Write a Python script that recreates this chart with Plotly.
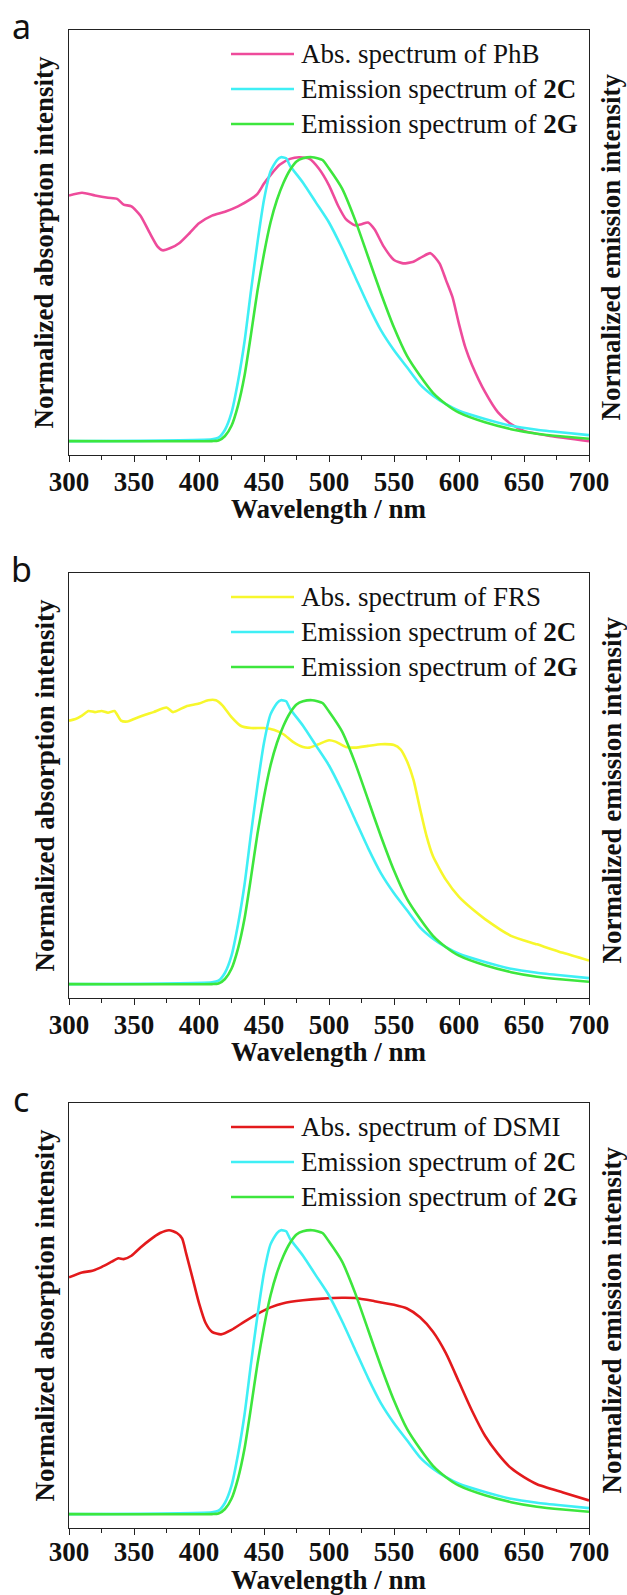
import plotly.graph_objects as go

# ---------------- data ----------------
WL_2C = [300, 410, 415, 420, 425, 430, 435, 440, 445, 450, 455, 460, 463, 467, 470, 480, 490, 500,
         510, 520, 530, 540, 550, 560, 570, 580, 590, 600, 620, 640, 660, 680, 700]
EM_2C = [0.0, 0.006, 0.012, 0.04, 0.10, 0.21, 0.35, 0.53, 0.70, 0.85, 0.95, 0.99, 1.0, 0.996, 0.97,
         0.91, 0.84, 0.77, 0.68, 0.58, 0.48, 0.39, 0.32, 0.26, 0.20, 0.16, 0.13, 0.107, 0.078, 0.054,
         0.04, 0.03, 0.021]

WL_2G = [300, 410, 415, 420, 425, 430, 435, 440, 445, 450, 455, 460, 465, 470, 475, 480, 487, 495,
         500, 510, 520, 530, 540, 550, 560, 570, 580, 590, 600, 620, 640, 660, 680, 700]
EM_2G = [0.0, 0.0, 0.002, 0.018, 0.054, 0.125, 0.23, 0.376, 0.53, 0.66, 0.77, 0.85, 0.91, 0.955,
         0.985, 0.996, 1.0, 0.99, 0.96, 0.89, 0.78, 0.65, 0.52, 0.40, 0.30, 0.23, 0.17, 0.13, 0.10,
         0.066, 0.042, 0.026, 0.016, 0.008]

WL_PHB = [300, 310, 320, 330, 337, 342, 348, 355, 362, 368, 372, 378, 385, 393, 400, 410, 420, 430,
          440, 445, 450, 455, 462, 470, 477, 485, 492, 500, 507, 513, 520, 525, 530, 535, 542, 550,
          557, 565, 572, 578, 585, 590, 595, 600, 605, 610, 620, 630, 640, 650, 670, 700]
ABS_PHB = [0.865, 0.875, 0.865, 0.857, 0.853, 0.833, 0.827, 0.794, 0.734, 0.686, 0.672, 0.680,
           0.698, 0.734, 0.767, 0.794, 0.808, 0.827, 0.853, 0.871, 0.907, 0.937, 0.973, 0.994, 1.0,
           0.994, 0.961, 0.901, 0.829, 0.782, 0.760, 0.764, 0.770, 0.746, 0.686, 0.638, 0.626,
           0.632, 0.650, 0.662, 0.626, 0.567, 0.507, 0.412, 0.328, 0.268, 0.173, 0.101, 0.060,
           0.036, 0.018, 0.0]

WL_FRS = [300, 305, 310, 315, 320, 325, 330, 335, 340, 345, 350, 357, 365, 375, 380, 390, 400, 407,
          413, 418, 425, 432, 440, 450, 458, 465, 472, 480, 485, 492, 500, 505, 513, 520, 530, 540,
          550, 555, 560, 565, 570, 575, 580, 590, 600, 610, 620, 640, 660, 680, 700]
ABS_FRS = [0.928, 0.934, 0.946, 0.962, 0.958, 0.962, 0.956, 0.962, 0.928, 0.925, 0.934, 0.946,
           0.958, 0.974, 0.958, 0.978, 0.988, 1.0, 1.0, 0.982, 0.940, 0.910, 0.902, 0.902, 0.895,
           0.880, 0.854, 0.835, 0.833, 0.845, 0.859, 0.854, 0.835, 0.833, 0.839, 0.845, 0.842,
           0.827, 0.785, 0.719, 0.618, 0.522, 0.450, 0.367, 0.307, 0.265, 0.229, 0.170, 0.140,
           0.110, 0.083]

WL_DSMI = [300, 310, 318, 325, 333, 338, 342, 348, 355, 362, 370, 377, 383, 387, 390, 395, 400, 405,
           410, 417, 425, 435, 445, 455, 465, 480, 495, 510, 520, 535, 550, 560, 570, 580, 590, 600,
           610, 620, 630, 640, 650, 660, 680, 700]
ABS_DSMI = [0.834, 0.851, 0.857, 0.870, 0.889, 0.901, 0.898, 0.910, 0.939, 0.965, 0.990, 1.0,
            0.990, 0.971, 0.920, 0.832, 0.743, 0.674, 0.642, 0.633, 0.649, 0.678, 0.705, 0.728,
            0.743, 0.753, 0.759, 0.762, 0.761, 0.750, 0.737, 0.724, 0.693, 0.642, 0.566, 0.465,
            0.364, 0.276, 0.212, 0.162, 0.130, 0.105, 0.076, 0.048]

X_TICKS = [300, 350, 400, 450, 500, 550, 600, 650, 700]
PANEL_LABELS = ["a", "b", "c"]
ABS_NAMES = ["Abs. spectrum of PhB", "Abs. spectrum of FRS", "Abs. spectrum of DSMI"]
EM_NAMES = ["Emission spectrum of <b>2C</b>", "Emission spectrum of <b>2G</b>"]
XTITLE = "Wavelength / nm"
YTITLE_L = "Normalized absorption intensity"
YTITLE_R = "Normalized emission intensity"

C_PHB = "#EE4B9B"
C_FRS = "#F7F72C"
C_DSMI = "#E31A1C"
C_2C = "#3FEFF5"
C_2G = "#3DE63D"

# ---------------- layout geometry (pixels) ----------------
W, H = 627, 1595
X_LEFT, X_RIGHT = 69, 589
PANEL_TOPS = [30, 573, 1103]
PANEL_H = 425
XTITLE_OFFSETS = [54, 54, 52]
TICK_STANDOFF = [-4, -4, -7]

SERIF = "Liberation Serif"

def px_x(p):
    return p / W

def px_y(p):
    return 1 - p / H

fig = go.Figure()

abs_sets = [(WL_PHB, ABS_PHB, C_PHB), (WL_FRS, ABS_FRS, C_FRS), (WL_DSMI, ABS_DSMI, C_DSMI)]

annotations = []
shapes = []

for i in range(3):
    n = "" if i == 0 else str(i + 1)
    xa = "x" + n
    ya = "y" + n
    wl, ab, col = abs_sets[i]
    fig.add_trace(go.Scatter(x=wl, y=ab, mode="lines", xaxis=xa, yaxis=ya, showlegend=False,
                             line=dict(color=col, width=2.6, shape="spline", smoothing=0.6)))
    fig.add_trace(go.Scatter(x=WL_2C, y=EM_2C, mode="lines", xaxis=xa, yaxis=ya, showlegend=False,
                             line=dict(color=C_2C, width=2.6, shape="spline", smoothing=0.6)))
    fig.add_trace(go.Scatter(x=WL_2G, y=EM_2G, mode="lines", xaxis=xa, yaxis=ya, showlegend=False,
                             line=dict(color=C_2G, width=2.6, shape="spline", smoothing=0.6)))

    top = PANEL_TOPS[i]
    bot = top + PANEL_H
    axis_common = dict(showgrid=False, zeroline=False, showline=True, linecolor="#222",
                       linewidth=1.3, mirror=True)
    fig.update_layout(**{
        ("xaxis" + n): dict(domain=[px_x(X_LEFT), px_x(X_RIGHT)], anchor=ya, range=[300, 700],
                            tickvals=X_TICKS, ticks="outside", ticklen=6, tickwidth=1.3,
                            tickcolor="#222", ticklabelstandoff=TICK_STANDOFF[i],
                            minor=dict(ticks="outside", ticklen=4, tickwidth=1.2, dtick=25,
                                       tick0=300, tickcolor="#222"),
                            tickfont=dict(family=SERIF, size=27, color="#111", weight="bold"),
                            automargin=False, **axis_common),
        ("yaxis" + n): dict(domain=[px_y(bot), px_y(top)], anchor=xa, range=[-0.049, 1.448],
                            showticklabels=False, ticks="", automargin=False, **axis_common),
    })

    cy = (top + bot) / 2
    # x title
    annotations.append(dict(xref="paper", yref="paper", x=px_x((X_LEFT + X_RIGHT) / 2),
                            y=px_y(bot + XTITLE_OFFSETS[i]),
                            text="<b>" + XTITLE + "</b>", showarrow=False, xanchor="center", yanchor="middle",
                            font=dict(family=SERIF, size=27, color="#111")))
    annotations.append(dict(xref="paper", yref="paper", x=px_x(44), y=px_y(cy), text="<b>" + YTITLE_L + "</b>",
                            textangle=-90, showarrow=False, xanchor="center", yanchor="middle",
                            font=dict(family=SERIF, size=27, color="#111")))
    annotations.append(dict(xref="paper", yref="paper", x=px_x(611), y=px_y(cy + 5), text="<b>" + YTITLE_R + "</b>",
                            textangle=-90, showarrow=False, xanchor="center", yanchor="middle",
                            font=dict(family=SERIF, size=27, color="#111")))
    # panel label
    annotations.append(dict(xref="paper", yref="paper", x=px_x(21), y=px_y(top - 4),
                            text=PANEL_LABELS[i], showarrow=False, xanchor="center", yanchor="middle",
                            font=dict(family="Noto Sans", size=34, color="#111")))
    # legend
    names = [ABS_NAMES[i]] + EM_NAMES
    cols = [col, C_2C, C_2G]
    for k in range(3):
        ry = top + 24 + 35 * k
        shapes.append(dict(type="line", xref="paper", yref="paper", x0=px_x(231), x1=px_x(294),
                           y0=px_y(ry), y1=px_y(ry), line=dict(color=cols[k], width=2.6)))
        annotations.append(dict(xref="paper", yref="paper", x=px_x(299), y=px_y(ry), text=names[k],
                                showarrow=False, xanchor="left", yanchor="middle",
                                font=dict(family=SERIF, size=27, color="#111")))

fig.update_layout(width=W, height=H, margin=dict(l=0, r=0, t=0, b=0),
                  paper_bgcolor="white", plot_bgcolor="white",
                  annotations=annotations, shapes=shapes, showlegend=False)

fig.write_html("out.html")
